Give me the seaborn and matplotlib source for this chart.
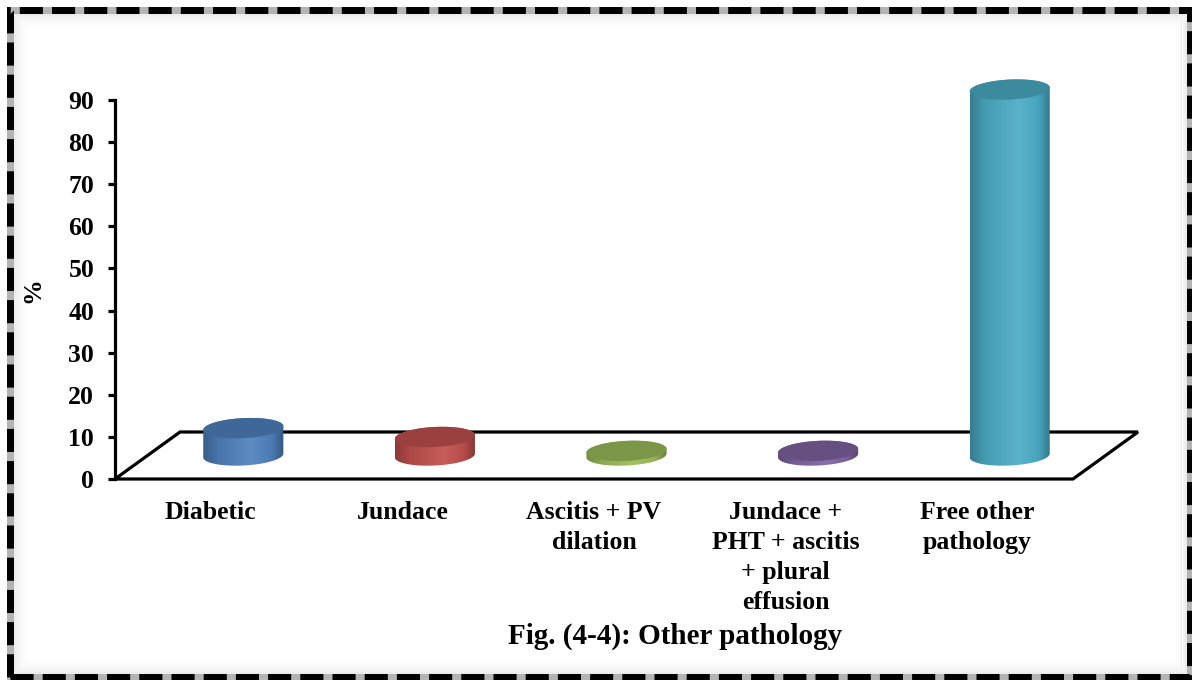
import numpy as np
import matplotlib
matplotlib.use("Agg")
import matplotlib.pyplot as plt
import seaborn as sns
import pandas as pd
from matplotlib.patches import Rectangle, Polygon
from matplotlib.lines import Line2D
from matplotlib.colors import LinearSegmentedColormap, to_rgb

# ---- data -------------------------------------------------------------
categories = [
    "Diabetic",
    "Jundace",
    "Ascitis + PV\ndilation",
    "Jundace +\nPHT + ascitis\n+ plural\neffusion",
    "Free other\npathology",
]
values = [6.5, 4.4, 1.1, 1.1, 86.9]
y_ticks = [0, 10, 20, 30, 40, 50, 60, 70, 80, 90]
bar_colors = ["#4F81BD", "#C0504D", "#9BBB59", "#8064A2", "#4BACC6"]
title_text = "Fig. (4-4): Other pathology"
y_label = "%"

# ---- styling ----------------------------------------------------------
sns.set_theme(style="white")
plt.rcParams["font.family"] = ["Liberation Serif", "DejaVu Serif"]
plt.rcParams["font.weight"] = "bold"

W, H = 1192, 680
fig = plt.figure(figsize=(W / 100, H / 100), dpi=100)
fig.patch.set_facecolor("white")

px_per_unit = 379 / 90.0
ax_left, ax_right, ax_zero = 115, 1073, 479
ax_h = 100 * px_per_unit
ax = fig.add_axes([ax_left / W, (H - ax_zero) / H, (ax_right - ax_left) / W, ax_h / H])

df = pd.DataFrame({"category": categories, "value": values})
bar_width = 0.418
sns.barplot(data=df, x="category", y="value", width=bar_width, color="#999999",
            ax=ax, zorder=0)

ax.set_xlim(-0.5, 4.5)
ax.set_ylim(0, 100)
ax.set_facecolor("none")

# oblique depth of the floor (category units, value units)
DX = 65 / ((ax_right - ax_left) / 5.0)
DY = 47 / px_per_unit

# floor outline
floor_x = [-0.5, -0.5 + DX, 4.5 + DX, 4.5, -0.5]
floor_y = [0, DY, DY, 0, 0]
ax.add_line(Line2D(floor_x, floor_y, color="black", lw=2.3, clip_on=False,
                   solid_joinstyle="miter", zorder=1))

RY = 10 / px_per_unit
TILT = 0.45


def shade(c, f):
    r, g, b = to_rgb(c)
    if f <= 1:
        return (r * f, g * f, b * f)
    return tuple(min(1.0, v + (1 - v) * (f - 1)) for v in (r, g, b))


def ellipse(cx, cy, rx, t):
    return cx + rx * np.cos(t), cy + RY * np.sin(t) + TILT * np.cos(t)


# cylinders built from the bar geometry that seaborn laid out
for i, patch in enumerate(list(ax.patches)):
    patch.set_visible(False)
    x0 = patch.get_x()
    w = patch.get_width()
    h = patch.get_height()
    rx = w / 2
    cx = x0 + rx + DX / 2
    yb = DY / 2
    yt = yb + h
    c = bar_colors[i]

    tb = np.linspace(np.pi, 2 * np.pi, 80)
    tt = np.linspace(0, np.pi, 80)
    bx, by = ellipse(cx, yb, rx, tb)
    tx, ty = ellipse(cx, yt, rx, tt)
    body = np.column_stack([np.r_[bx, tx], np.r_[by, ty]])
    clip = Polygon(body, closed=True, transform=ax.transData, facecolor="none",
                   edgecolor="none")
    ax.add_patch(clip)

    cmap = LinearSegmentedColormap.from_list(
        f"cyl{i}",
        [(0.0, shade(c, 0.72)), (0.18, shade(c, 0.9)), (0.6, shade(c, 1.08)),
         (0.85, shade(c, 0.95)), (1.0, shade(c, 0.68))])
    grad = np.linspace(0, 1, 256)[None, :]
    im = ax.imshow(grad, cmap=cmap, aspect="auto", interpolation="bilinear",
                   extent=[cx - rx, cx + rx, yb - RY - TILT - 1, yt + RY + TILT + 1],
                   origin="lower", zorder=3)
    im.set_clip_path(clip)
    im.set_clip_box(fig.bbox)

    t_full = np.linspace(0, 2 * np.pi, 160)
    ex, ey = ellipse(cx, yt, rx, t_full)
    ax.add_patch(Polygon(np.column_stack([ex, ey]), closed=True,
                         facecolor=shade(c, 0.8), edgecolor="none", zorder=4,
                         clip_on=False))

ax.set_xlim(-0.5, 4.5)
ax.set_ylim(0, 100)

# axes styling
for side in ("top", "right", "bottom"):
    ax.spines[side].set_visible(False)
ax.spines["left"].set_linewidth(2.3)
ax.spines["left"].set_color("black")
ax.spines["left"].set_bounds(0, 90)
ax.set_yticks(y_ticks)
ax.set_yticklabels([str(v) for v in y_ticks])
ax.tick_params(axis="y", which="major", left=True, length=5, width=2.3,
               direction="out", pad=10, labelsize=18.5, colors="black")
ax.tick_params(axis="x", length=0, pad=16, labelsize=18.5, colors="black")
ax.set_xticks(range(len(categories)))
ax.set_xticklabels(categories, fontweight="bold", linespacing=1.38)
for lab in ax.get_yticklabels():
    lab.set_fontweight("bold")

ax.set_xlabel("")
ax.set_ylabel(y_label, fontsize=18.5, fontweight="bold", color="black")
ax.yaxis.set_label_coords((44 - ax_left) / (ax_right - ax_left), 189 / ax_h)
ax.grid(False)

fig.text(675 / W, 1 - 636 / H, title_text, ha="center", va="center",
         fontsize=21, fontweight="bold", color="black")

# dashed page frame with a soft inner shadow
fx0, fy0, fx1, fy1 = 9.5, 10, 1189.5, 677


def frame_rect(inset, **kw):
    return Rectangle(((fx0 + inset) / W, 1 - (fy1 - inset) / H),
                     (fx1 - fx0 - 2 * inset) / W, (fy1 - fy0 - 2 * inset) / H,
                     transform=fig.transFigure, fill=False, **kw)


for k in range(4, 18):
    a = 0.10 * (1 - (k - 4) / 14.0) ** 1.6
    fig.add_artist(frame_rect(k, edgecolor=(0.3, 0.3, 0.3, a), lw=0.75))
fig.add_artist(frame_rect(0, edgecolor="#b4b4b4", lw=7 * 0.72))
fig.add_artist(frame_rect(0, edgecolor="black", lw=7 * 0.72,
                          linestyle=(0, (3.3, 1.3)), capstyle="butt",
                          joinstyle="miter"))

fig.savefig("out.png", dpi=100, facecolor="white")
